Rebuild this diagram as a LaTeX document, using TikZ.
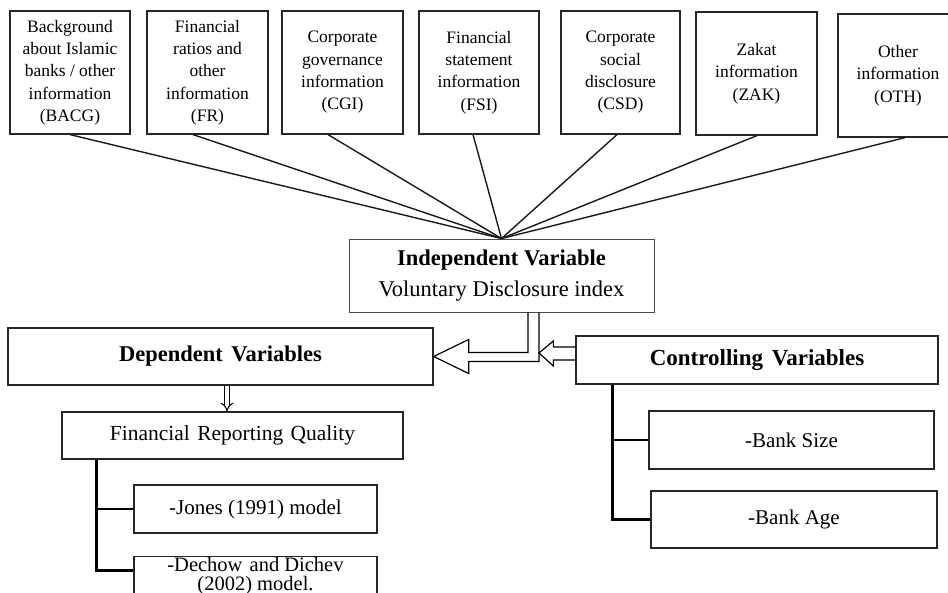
\documentclass[tikz,border=0pt]{standalone}
\usepackage{fontspec}
\setmainfont{Liberation Serif}
\usetikzlibrary{arrows.meta}
\tikzset{
  topbox/.style={draw=black!85, line width=1.2pt, minimum height=123pt, align=center,
    font=\fontsize{17.5}{22.3}\selectfont, inner sep=0pt},
  box/.style={draw=black!85, line width=1.3pt, inner sep=0pt, align=center},
  spoke/.style={line width=1.4pt, black!90},
  bracket/.style={line width=2.6pt},
  hollow/.style={line width=1.2pt, line join=miter},
}
\begin{document}
\begin{tikzpicture}[x=1pt, y=-1pt]
\useasboundingbox (0,0) rectangle (948,593);
\clip (0,0) rectangle (948,593);

% top boxes
\node[topbox, minimum width=120pt] (bacg) at (70,72.5) {Background\\about Islamic\\banks / other\\information\\(BACG)};
\node[topbox, minimum width=121pt] (fr) at (207.5,72.5) {Financial\\ratios and\\other\\information\\(FR)};
\node[topbox, minimum width=121pt] (cgi) at (342.5,72.5) {Corporate\\governance\\information\\(CGI)};
\node[topbox, minimum width=120pt] (fsi) at (479,72.5) {Financial\\statement\\information\\(FSI)};
\node[topbox, minimum width=119pt] (csd) at (620.5,72.5) {Corporate\\social\\disclosure\\(CSD)};
\node[topbox, minimum width=121pt] (zak) at (756.5,73.5) {Zakat\\information\\(ZAK)};
\node[topbox, minimum width=120pt] (oth) at (898,75.5) {Other\\information\\(OTH)};

% independent variable
\node[box, draw=black!70, line width=0.9pt, minimum width=305pt, minimum height=73pt,
  font=\fontsize{22.5}{31}\selectfont] (ind) at (501.5,275.5)
  {\rule{0pt}{14pt}{\bfseries Independent Variable}\\Voluntary Disclosure index};

% spokes
\draw[spoke] (bacg.south) -- (ind.north);
\draw[spoke] ([xshift=-14.5pt]fr.south) -- (ind.north);
\draw[spoke] ([xshift=-14.5pt]cgi.south) -- (ind.north);
\draw[spoke] ([xshift=-6pt]fsi.south) -- (ind.north);
\draw[spoke] ([xshift=-3.5pt]csd.south) -- (ind.north);
\draw[spoke] ([xshift=0.5pt]zak.south) -- (ind.north);
\draw[spoke] ([xshift=7pt]oth.south) -- (ind.north);

% dependent / controlling
\node[box, minimum width=425pt, minimum height=57pt, font=\fontsize{22.5}{27}\selectfont\bfseries]
  (dep) at (220.5,356.5) {Dependent\hspace{3pt} Variables};
\node[box, minimum width=362pt, minimum height=48pt, font=\fontsize{23}{27}\selectfont\bfseries]
  (ctl) at (757,360) {Controlling\hspace{3pt} Variables};

\node[box, minimum width=341pt, minimum height=47pt, font=\fontsize{21.5}{26}\selectfont]
  (frq) at (232.5,435.5) {Financial\hspace{2pt} Reporting\hspace{2pt} Quality};
\node[box, minimum width=243pt, minimum height=48pt, font=\fontsize{21}{25}\selectfont]
  (jones) at (255.5,509) {-Jones (1991) model};
\node[box, anchor=north, minimum width=243pt, inner ysep=1pt, font=\fontsize{20.5}{19}\selectfont]
  (dechow) at (255.5,556) {-Dechow\hspace{2pt} and Dichev\\(2002) model.};

\node[box, minimum width=285pt, minimum height=58pt, font=\fontsize{21}{25}\selectfont]
  (size) at (791.5,440) {-Bank Size};
\node[box, minimum width=286pt, minimum height=57pt, font=\fontsize{21}{25}\selectfont]
  (age) at (794,519.5) {-Bank Age};

% hollow arrow: independent -> dependent
\draw[hollow] ([xshift=26.5pt]ind.south) |- ([xshift=35pt,yshift=4pt]dep.east)
  -- ([xshift=35pt,yshift=17pt]dep.east) -- (dep.east)
  -- ([xshift=35pt,yshift=-17pt]dep.east) -- ([xshift=35pt,yshift=-5pt]dep.east)
  -| ([xshift=37.5pt]ind.south);

% hollow arrow: controlling -> joint
\coordinate (jn) at (539,353);
\draw[hollow] ([yshift=13pt]ctl.west) -- ([xshift=-22pt,yshift=13pt]ctl.west)
  -- ([xshift=-22pt,yshift=19pt]ctl.west) -- (jn)
  -- ([xshift=-22pt,yshift=-6pt]ctl.west) -- ([xshift=-22pt]ctl.west) -- (ctl.west);

% small double arrow dependent -> FRQ
\draw[double, double distance=3.5pt, line width=1pt, -{Implies}] ([xshift=6.5pt]dep.south) -- ([xshift=-5.5pt]frq.north);

% brackets
\draw[bracket] ([xshift=35pt]frq.south west) |- (jones.west);
\draw[bracket] ([xshift=35pt]frq.south west) |- ([yshift=6pt]dechow.west);
\draw[bracket] ([xshift=37pt]ctl.south west) |- (size.west);
\draw[bracket] ([xshift=37pt]ctl.south west) |- (age.west);
\end{tikzpicture}
\end{document}
